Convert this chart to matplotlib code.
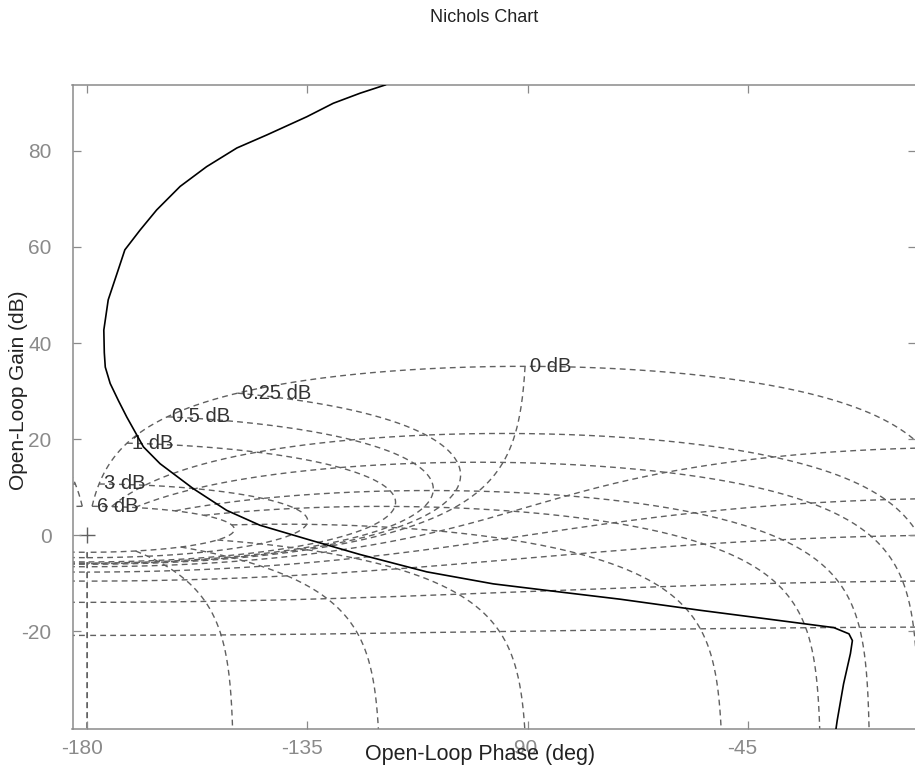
import numpy as np
import matplotlib.pyplot as plt
from matplotlib.transforms import ScaledTranslation

plt.rcParams['font.family'] = ['Liberation Sans', 'DejaVu Sans']
plt.rcParams['axes.unicode_minus'] = False

# open-loop response (phase in deg, gain in dB)
ol_phase = [-117.0, -119.1, -124.2, -129.7, -135.1, -143.3, -149.4, -155.6, -161.0,
            -165.8, -169.2, -172.3, -173.7, -175.7, -176.6, -176.5, -176.3, -175.3,
            -173.6, -171.9, -168.5, -165.1, -158.3, -151.5, -144.7, -134.4, -124.2,
            -110.6, -97.0, -83.3, -71.0, -54.7, -41.0, -27.4, -24.3, -23.6, -24.0,
            -25.4, -26.7, -27.2]
ol_gain = [95.0, 93.7, 92.0, 89.9, 87.1, 83.3, 80.6, 76.7, 72.6,
           67.7, 63.5, 59.4, 55.1, 49.0, 42.7, 38.0, 35.0, 31.6,
           28.0, 24.6, 18.4, 14.9, 9.7, 5.2, 2.1, -1.0, -4.0,
           -7.6, -10.1, -11.8, -13.3, -15.6, -17.4, -19.2, -20.5, -21.9, -24.6,
           -30.9, -38.5, -42.0]

# closed-loop levels of the Nichols grid (ngrid)
cl_gain_db = [6, 3, 1, 0.5, 0.25, 0, -1, -3, -6, -12, -20]
cl_phase_deg = [-1, -5, -10, -20, -30, -50, -90, -120, -150, -180]
label_gain_db = [6, 3, 1, 0.5, 0.25, 0]
label_text = ['6 dB', '3 dB', '1 dB', '0.5 dB', '0.25 dB', '0 dB']

xticks = [-180, -135, -90, -45]
yticks = [-20, 0, 20, 40, 60, 80]


def open_loop(m_db, th_deg):
    # L = T/(1-T) for closed-loop T = M*exp(j*theta)
    t = 10 ** (np.asarray(m_db, float) / 20) * np.exp(1j * np.deg2rad(th_deg))
    l = t / (1 - t)
    ph = np.rad2deg(np.angle(l))
    ph = np.where(ph > 0, ph - 360, ph)
    return ph, 20 * np.log10(np.abs(l))


fig = plt.figure(figsize=(9.15, 7.71), dpi=100)
ax = fig.add_axes([72.5 / 915, 42 / 771, 843 / 915, 644 / 771])

gcol = '#606060'
gkw = dict(color=gcol, lw=1.0, dashes=(4.2, 3.0), zorder=1)

# constant closed-loop gain contours
th = -np.concatenate([np.linspace(1, 10, 300), np.linspace(10, 180, 500)[1:]])
for g in cl_gain_db:
    ph, gd = open_loop(g, th)
    ax.plot(ph, gd, **gkw)
    ax.plot(-360 - ph, gd, **gkw)

# constant closed-loop phase contours
mg = np.concatenate([np.linspace(6, -3, 3000), np.linspace(-3, -80, 400)[1:]])
for p in cl_phase_deg:
    ph, gd = open_loop(mg, p)
    ax.plot(ph, gd, **gkw)
    ax.plot(-360 - ph, gd, **gkw)

ax.plot([-180], [0], marker='+', ms=11, mew=1.0, color=gcol, zorder=1)

for g, s in zip(label_gain_db, label_text):
    ph, gd = open_loop(g, -1)
    ax.annotate(s, (float(ph), float(gd)), xytext=(3.5, 0), textcoords='offset points',
                fontsize=14.5, color='#333333', ha='left', va='center', zorder=2)

ax.plot(ol_phase, ol_gain, color='black', lw=1.2, zorder=3)

ax.set_xlim(-183.0, -10.7)
ax.set_ylim(-40.3, 93.7)
ax.set_xticks(xticks)
ax.set_yticks(yticks)
ax.tick_params(direction='in', length=6, width=0.9, colors='#8a8a8a',
               labelsize=15, top=True, right=True)
ax.tick_params(axis='x', pad=7)
ax.tick_params(axis='y', pad=15)
shift = ScaledTranslation(-5.5 / 100, 0, fig.dpi_scale_trans)
for lab in ax.get_xticklabels():
    lab.set_transform(lab.get_transform() + shift)
for sp in ax.spines.values():
    sp.set_color('#8a8a8a')
    sp.set_linewidth(1.1)

fig.text(484 / 915, 1 - 18 / 771, 'Nichols Chart', fontsize=13, color='#222222',
         ha='center', va='center')
fig.text(480 / 915, 1 - 760 / 771, 'Open-Loop Phase (deg)', fontsize=15.5,
         color='#222222', ha='center', va='baseline')
fig.text(19 / 915, 1 - 390 / 771, 'Open-Loop Gain (dB)', fontsize=15,
         color='#222222', ha='center', va='center', rotation=90)

fig.savefig('out.png', dpi=100)
